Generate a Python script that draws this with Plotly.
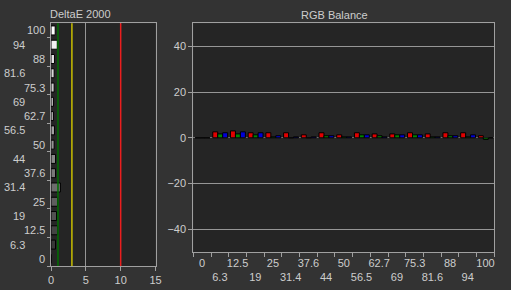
import plotly.graph_objects as go

levels = ["0", "6.3", "12.5", "19", "25", "31.4", "37.6", "44", "50", "56.5",
          "62.7", "69", "75.3", "81.6", "88", "94", "100"]
delta_e = [0, 0.65, 0.95, 0.8, 0.95, 1.35, 0.65, 0.65, 0.45, 0.5,
           0.35, 0.35, 0.45, 0.45, 0.5, 0.9, 0.6]
red = [0, 2.6, 3.0, 2.2, 2.2, 2.2, 1.3, 2.2, 1.3, 2.2, 1.7, 1.7, 2.2, 1.7, 2.2, 2.2, 0.9]
green = [0, 1.7, 1.7, 1.3, 0.4, 0, 0, 0.9, 0.4, 1.3, 0.9, 1.3, 1.3, 0.4, 0.9, 0.4, -0.7]
blue = [0, 2.2, 2.6, 2.2, 0.9, 0.4, 0.4, 0.9, 0.4, 1.3, 0.4, 1.3, 1.3, 0.4, 0.9, 1.3, 0]
de_ticks = [0, 5, 10, 15]
rgb_ticks = [-40, -20, 0, 20, 40]

W, H = 511, 290
FONT = "Liberation Sans"
TXT = "rgb(205,205,205)"
FRAME = "rgb(160,160,160)"

def px_x(p):
    return p / W

def px_y(p):
    return 1 - p / H

grays = []
for lv in levels:
    v = int(round(40 + 215 * float(lv) / 100))
    grays.append(f"rgb({v},{v},{v})")

fig = go.Figure()

fig.add_trace(go.Bar(
    y=levels, x=delta_e, orientation="h", width=0.63,
    marker=dict(color=grays, line=dict(color="black", width=1)),
    xaxis="x", yaxis="y", showlegend=False))

bw = 0.28
for vals, col, off in [(red, "rgb(225,0,0)", -0.40),
                       (green, "rgb(0,135,0)", -0.12),
                       (blue, "rgb(0,0,215)", 0.16)]:
    fig.add_trace(go.Bar(
        x=levels, y=vals, width=bw, offset=off,
        marker=dict(color=col, line=dict(color="black", width=1)),
        xaxis="x2", yaxis="y2", showlegend=False))

axis_common = dict(showline=True, linecolor=FRAME, linewidth=1, mirror=True,
                   tickfont=dict(family=FONT, size=11, color=TXT),
                   tickcolor=FRAME, ticks="outside", ticklen=4, automargin=False)

fig.update_layout(
    width=W, height=H,
    margin=dict(l=0, r=0, t=0, b=0, autoexpand=False),
    paper_bgcolor="rgb(51,51,51)",
    plot_bgcolor="rgb(37,37,37)",
    barmode="overlay",
    xaxis=dict(domain=[px_x(51), px_x(155.5)], range=[0, 15],
               tickvals=de_ticks, showgrid=True, gridcolor="rgb(150,150,150)",
               gridwidth=1, zeroline=False, anchor="y", tickangle=0, **axis_common),
    yaxis=dict(domain=[px_y(266), px_y(23.3)], type="category",
               categoryorder="array", categoryarray=levels,
               range=[-0.5, 16.5],
               showticklabels=False, tickson="boundaries", showgrid=False,
               anchor="x", **{**axis_common, "ticklen": 3}),
    xaxis2=dict(domain=[px_x(193.3), px_x(494.3)], type="category",
                categoryorder="array", categoryarray=levels,
                range=[-0.5, 16.5],
                tickvals=levels,
                ticktext=[lv if i % 2 == 0 else "<br>" + lv for i, lv in enumerate(levels)],
                tickangle=0,
                tickson="boundaries", showgrid=False, anchor="y2", **axis_common),
    yaxis2=dict(domain=[px_y(252.3), px_y(23.3)], range=[-50, 50],
                tickvals=rgb_ticks, showgrid=True, gridcolor="rgb(150,150,150)",
                gridwidth=1, zeroline=True, zerolinecolor="rgb(110,110,110)",
                zerolinewidth=1, anchor="x2", **axis_common),
)

shapes = []
for xv, col in [(1, "rgb(0,110,0)"), (3, "rgb(200,190,0)"), (10, "rgb(235,30,30)")]:
    shapes.append(dict(type="line", xref="x", yref="y domain", x0=xv, x1=xv,
                       y0=0, y1=1, line=dict(color=col, width=1.5), layer="above"))
fig.update_layout(shapes=shapes)

annotations = [
    dict(text="DeltaE 2000", x=px_x(80), y=px_y(14), xref="paper", yref="paper",
         showarrow=False, xanchor="center", yanchor="middle",
         font=dict(family=FONT, size=11, color=TXT)),
    dict(text="RGB Balance", x=px_x(334), y=px_y(15), xref="paper", yref="paper",
         showarrow=False, xanchor="center", yanchor="middle",
         font=dict(family=FONT, size=11, color=TXT)),
]
for i, lv in enumerate(levels):
    annotations.append(dict(
        text=lv, xref="paper", yref="y", x=px_x(47 if i % 2 == 0 else 27), y=i,
        showarrow=False, xanchor="right", yanchor="middle",
        font=dict(family=FONT, size=11, color=TXT)))
fig.update_layout(annotations=annotations)

fig.write_html("out.html")
